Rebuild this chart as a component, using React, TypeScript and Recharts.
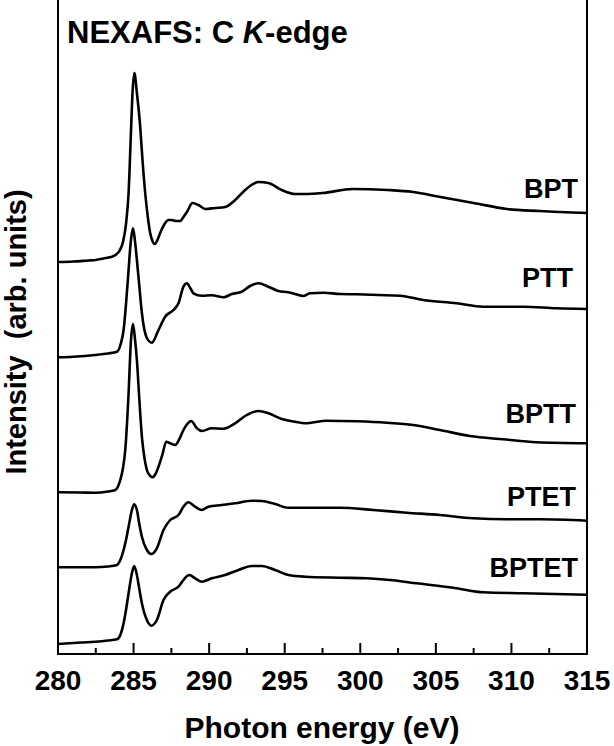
import React from "react";
import { LineChart, Line, XAxis, YAxis, ReferenceArea } from "recharts";

// Photon energy (eV) and intensity (arb. units, vertically offset stack)
const bptE = [280, 281, 282, 282.5, 283, 283.5, 283.8, 284.1, 284.3, 284.5, 284.67, 284.84, 284.93, 285.05, 285.22, 285.44, 285.6, 285.77, 285.95, 286.1, 286.25, 286.39, 286.55, 286.76, 287.09, 287.3, 287.53, 287.8, 288.08, 288.3, 288.53, 288.9, 289.29, 289.74, 290.4, 291.06, 291.72, 292.38, 292.8, 293.26, 293.92, 294.8, 295.68, 296.34, 297.5, 299.5, 301.8, 303.5, 305.3, 307.5, 309.7, 311.9, 315];
const bptI = [392, 392.5, 393.5, 394, 395.5, 397, 399, 404, 412, 430, 461, 527, 561, 581, 561, 527, 492, 461, 436, 421, 413, 410, 413, 421, 431, 434, 434, 433, 433, 437, 442, 451, 449, 445, 446, 447, 454, 464, 469, 472, 471, 464, 460, 460, 461, 465, 464, 462, 457, 451, 445, 443, 441];

const pttE = [280, 281, 282.47, 283.3, 283.9, 284.15, 284.34, 284.5, 284.67, 284.8, 284.96, 285.1, 285.22, 285.38, 285.55, 285.88, 286.21, 286.65, 287.09, 287.64, 287.97, 288.3, 288.53, 288.75, 288.96, 289.52, 290.18, 290.95, 291.5, 292.16, 292.71, 293.26, 293.92, 294.58, 295.24, 295.68, 296.23, 296.67, 297.55, 298.66, 299.76, 301.2, 302.62, 304.16, 306.37, 308.13, 310.77, 312.98, 315];
const pttI = [296.7, 297.3, 299, 300.5, 302.3, 310, 324, 350, 384, 410, 425.7, 412, 394, 368, 341, 316, 311.3, 324, 337.3, 344, 350.7, 367.3, 370.7, 366, 360.7, 358.3, 358.7, 356.7, 360, 362.3, 368, 370.7, 367.3, 363, 361.7, 360, 358, 360.7, 361.3, 360, 359.7, 359, 358.3, 354, 350.7, 347.3, 347.3, 345.7, 345];

const bpttE = [280, 281.5, 282.47, 283.3, 283.79, 284.12, 284.3, 284.45, 284.67, 284.82, 284.96, 285.1, 285.22, 285.38, 285.55, 285.72, 285.88, 286.05, 286.25, 286.45, 286.65, 286.9, 287.16, 287.42, 287.75, 288.0, 288.3, 288.55, 288.81, 289.19, 289.52, 290.18, 290.95, 291.72, 292.38, 293.26, 293.92, 294.8, 295.68, 296.34, 297.78, 299.76, 301.74, 303.5, 305.27, 307.25, 309.45, 311.66, 315];
const bpttI = [161.7, 161.5, 161.3, 162.5, 164, 174, 186, 204, 260.7, 312, 330, 314, 294, 255, 217.3, 196, 184, 179, 176.7, 180, 187.3, 199, 212.3, 210.7, 209, 214, 224, 230, 233, 225.7, 223, 225.7, 225.3, 230.7, 238, 243, 240.7, 235, 232.3, 230.7, 233.3, 232.7, 231.3, 229, 224, 218, 214.7, 211.7, 210.7];

const ptetE = [280, 281.5, 282.47, 283.3, 283.9, 284.15, 284.34, 284.5, 284.67, 284.89, 285.04, 285.22, 285.38, 285.55, 285.88, 286.17, 286.54, 286.98, 287.42, 287.97, 288.3, 288.63, 289.07, 289.52, 289.95, 290.84, 291.72, 292.82, 293.48, 294.36, 295.24, 296.34, 298.66, 300.86, 303.07, 305.27, 307.47, 309.68, 311.88, 315];
const ptetI = [86.7, 86.7, 86.7, 87.5, 89, 95, 104, 114, 127.3, 144, 149.7, 144, 130, 117.3, 104, 100, 105.7, 124, 134, 139, 147.3, 151.7, 147.3, 144, 147.3, 149, 150.7, 153.3, 153, 150, 146.3, 146.3, 146.3, 144, 141.3, 139, 135.7, 134.7, 134.7, 133.3];

const bptetE = [280, 281.5, 282.47, 283.3, 283.9, 284.15, 284.34, 284.5, 284.67, 284.89, 285.04, 285.22, 285.38, 285.55, 285.88, 286.17, 286.54, 286.98, 287.42, 287.97, 288.3, 288.68, 289.07, 289.52, 290.18, 291.06, 291.94, 292.82, 293.48, 294.36, 295.24, 296.34, 298.66, 300.42, 301.96, 303.73, 306.37, 308.13, 310.77, 315];
const bptetI = [10, 11.5, 12.3, 13.5, 14.7, 20, 30.7, 44, 60.7, 80.7, 88, 79, 65, 50.7, 34, 28.3, 34, 54, 62.3, 67.3, 74, 79, 75.7, 72.3, 75.7, 79, 84, 88, 88, 84, 79, 77.3, 76.3, 75.7, 74, 70.7, 65.7, 61.7, 60.7, 59.3];

const seriesNames = ["BPT", "PTT", "BPTT", "PTET", "BPTET"];
const energyTicks = [280, 282.5, 285, 287.5, 290, 292.5, 295, 297.5, 300, 302.5, 305, 307.5, 310, 312.5, 315];

const zip = (e: number[], v: number[]) => e.map((x, i) => ({ e: x, v: v[i] }));
const series = [
  zip(bptE, bptI),
  zip(pttE, pttI),
  zip(bpttE, bpttI),
  zip(ptetE, ptetI),
  zip(bptetE, bptetI),
];

const FONT = "'Liberation Sans', Arial, Helvetica, sans-serif";

const BottomTick = (props: any) => {
  const { x, y, payload } = props;
  const major = payload.value % 5 === 0;
  return (
    <g>
      <line x1={x} x2={x} y1={y} y2={y - (major ? 11 : 6)} stroke="#000" strokeWidth={2} />
      {major && (
        <text x={x} y={y + 36} textAnchor="middle" fontSize={28} fontWeight="bold" fontFamily={FONT} fill="#000">
          {payload.value}
        </text>
      )}
    </g>
  );
};

const TopTick = (props: any) => {
  const { x, y, payload } = props;
  const major = payload.value % 5 === 0;
  return <line x1={x} x2={x} y1={y} y2={y + (major ? 12 : 7)} stroke="#000" strokeWidth={2} />;
};

const labelPos = [
  { x: 578, y: 198 },
  { x: 573, y: 287 },
  { x: 576, y: 423 },
  { x: 576, y: 506 },
  { x: 578, y: 577 },
];

export default function App() {
  return (
    <div style={{ position: "absolute", left: 0, top: 0, width: 614, height: 746, background: "#fff", overflow: "hidden" }}>
      <div style={{ position: "absolute", left: 0, top: -1 }}>
        <LineChart width={614} height={747} margin={{ top: 0, right: 27, left: 58, bottom: 32 }}>
          <XAxis
            type="number"
            dataKey="e"
            domain={[280, 315]}
            ticks={energyTicks}
            interval={0}
            allowDataOverflow
            axisLine={false}
            tickLine={false}
            tickSize={0}
            tickMargin={0}
            height={60}
            tick={<BottomTick />}
          />
          <XAxis
            xAxisId="top"
            orientation="top"
            type="number"
            dataKey="e"
            domain={[280, 315]}
            ticks={energyTicks}
            interval={0}
            axisLine={false}
            tickLine={false}
            tickSize={0}
            tickMargin={0}
            height={0}
            tick={<TopTick />}
          />
          <YAxis type="number" domain={[0, 655]} hide allowDataOverflow />
          {series.map((d, i) => (
            <Line
              key={seriesNames[i]}
              data={d}
              dataKey="v"
              type="monotone"
              stroke="#000"
              strokeWidth={2.6}
              dot={false}
              activeDot={false}
              isAnimationActive={false}
            />
          ))}
          <ReferenceArea x1={280} x2={315} y1={0} y2={655} fill="none" fillOpacity={0} stroke="#000" strokeWidth={2} />
        </LineChart>
      </div>
      <svg width={614} height={746} style={{ position: "absolute", left: 0, top: 0, pointerEvents: "none" }}>
        <text x={67} y={43} fontSize={31} fontWeight="bold" fontFamily={FONT} fill="#000">
          NEXAFS: C <tspan fontStyle="italic">K</tspan>-edge
        </text>
        {seriesNames.map((n, i) => (
          <text key={n} x={labelPos[i].x} y={labelPos[i].y} textAnchor="end" fontSize={27} fontWeight="bold" fontFamily={FONT} fill="#000">
            {n}
          </text>
        ))}
        <text x={322} y={738} textAnchor="middle" fontSize={30} fontWeight="bold" fontFamily={FONT} fill="#000">
          Photon energy (eV)
        </text>
        <text transform="translate(26,332) rotate(-90)" textAnchor="middle" fontSize={29} fontWeight="bold" fontFamily={FONT} fill="#000" xmlSpace="preserve">
          Intensity  (arb. units)
        </text>
      </svg>
    </div>
  );
}
